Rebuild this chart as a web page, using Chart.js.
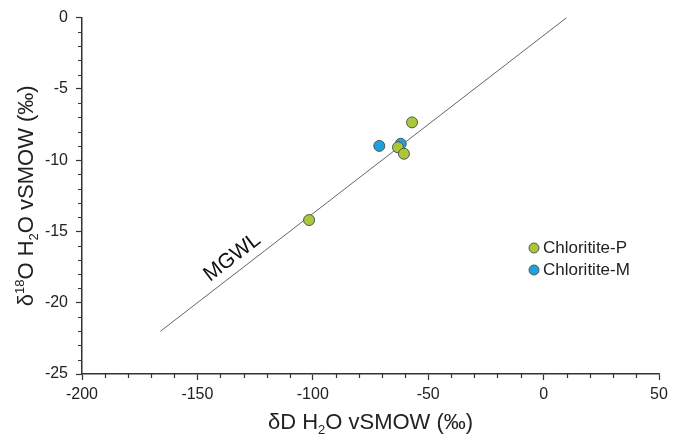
<!DOCTYPE html>
<html>
<head>
<meta charset="utf-8">
<script src="https://cdn.jsdelivr.net/npm/chart.js@4.4.0/dist/chart.umd.min.js"></script>
<style>
  html, body { margin: 0; padding: 0; background: #fff; }
  #wrap { width: 674px; height: 442px; }
</style>
</head>
<body>
<div id="wrap"><canvas id="chart" width="674" height="442"></canvas></div>
<script>
// Data (dD, d18O in permil vs SMOW)
const seriesNames = ['Chloritite-P', 'Chloritite-M'];
const chloritePD = [-57.0, -63.1, -60.5, -101.6];
const chloritePO = [-7.35, -9.10, -9.55, -14.2];
const chloriteMD = [-71.2, -61.9];
const chloriteMO = [-9.0, -8.85];
// meteoric water line end points
const mgwlD = [-166, 10];
const mgwlO = [-22, 0];

const xTicks = [-200, -150, -100, -50, 0, 50];
const yTicks = [-25, -20, -15, -10, -5, 0];

const FONT = '"Liberation Sans", Arial, sans-serif';
const green = '#A8C83A';
const blue = '#1AA3E0';

function toPoints(xs, ys) {
    return xs.map((x, i) => ({ x: x, y: ys[i] }));
}

// minor ticks drawn from the scales
const minorTicks = {
    id: 'minorTicks',
    afterDraw(chart) {
        const ctx = chart.ctx;
        const xs = chart.scales.x, ys = chart.scales.y;
        ctx.save();
        ctx.strokeStyle = '#333';
        ctx.lineWidth = 1.2;
        ctx.beginPath();
        for (let v = xs.min; v <= xs.max; v += 10) {
            if (v % 50 === 0) continue;
            const px = Math.round(xs.getPixelForValue(v)) + 0.5;
            ctx.moveTo(px, ys.bottom);
            ctx.lineTo(px, ys.bottom + 4);
        }
        for (let v = ys.min; v <= ys.max; v += 1) {
            if (v % 5 === 0) continue;
            const py = Math.round(ys.getPixelForValue(v)) + 0.5;
            ctx.moveTo(xs.left, py);
            ctx.lineTo(xs.left - 4, py);
        }
        ctx.stroke();
        ctx.restore();
    }
};

// text with super/subscripts
function drawRich(ctx, parts, cx, cy, rot) {
    ctx.save();
    ctx.translate(cx, cy);
    ctx.rotate(rot);
    let total = 0;
    parts.forEach(p => {
        ctx.font = p.size + 'px ' + FONT;
        p.w = ctx.measureText(p.t).width;
        total += p.w;
    });
    let x = -total / 2;
    ctx.fillStyle = '#222';
    ctx.textBaseline = 'middle';
    ctx.textAlign = 'left';
    parts.forEach(p => {
        ctx.font = p.size + 'px ' + FONT;
        ctx.fillText(p.t, x, p.dy || 0);
        x += p.w;
    });
    ctx.restore();
}

const axisTitles = {
    id: 'axisTitles',
    afterDraw(chart) {
        const ctx = chart.ctx;
        const a = chart.chartArea;
        drawRich(ctx, [
            { t: '\u03B4D H', size: 22 },
            { t: '2', size: 13, dy: 7 },
            { t: 'O vSMOW (\u2030)', size: 22 }
        ], (a.left + a.right) / 2, 423, 0);
        drawRich(ctx, [
            { t: '\u03B4', size: 22 },
            { t: '18', size: 13, dy: -7 },
            { t: 'O H', size: 22 },
            { t: '2', size: 13, dy: 7 },
            { t: 'O vSMOW (\u2030)', size: 22 }
        ], 27, (a.top + a.bottom) / 2, -Math.PI / 2);
    }
};

// MGWL label along the line
const lineLabel = {
    id: 'lineLabel',
    afterDatasetsDraw(chart) {
        const ctx = chart.ctx;
        const xs = chart.scales.x, ys = chart.scales.y;
        const x0 = xs.getPixelForValue(mgwlD[0]), y0 = ys.getPixelForValue(mgwlO[0]);
        const x1 = xs.getPixelForValue(mgwlD[1]), y1 = ys.getPixelForValue(mgwlO[1]);
        const ang = Math.atan2(y1 - y0, x1 - x0);
        const d = -131;
        const o = mgwlO[0] + (d - mgwlD[0]) * (mgwlO[1] - mgwlO[0]) / (mgwlD[1] - mgwlD[0]);
        const px = xs.getPixelForValue(d), py = ys.getPixelForValue(o);
        ctx.save();
        ctx.translate(px, py);
        ctx.rotate(ang);
        ctx.font = '21px ' + FONT;
        ctx.fillStyle = '#111';
        ctx.textAlign = 'center';
        ctx.textBaseline = 'bottom';
        ctx.fillText('MGWL', 0, -4);
        ctx.restore();
    }
};

// legend at the right of the plot
const sideLegend = {
    id: 'sideLegend',
    afterDraw(chart) {
        const ctx = chart.ctx;
        const rows = [0, 1];
        ctx.save();
        rows.forEach(i => {
            const ds = chart.data.datasets[i];
            const cy = 248 + i * 22;
            ctx.beginPath();
            ctx.arc(534, cy, 5, 0, Math.PI * 2);
            ctx.fillStyle = ds.backgroundColor;
            ctx.fill();
            ctx.lineWidth = 1;
            ctx.strokeStyle = '#555';
            ctx.stroke();
            ctx.font = '17px ' + FONT;
            ctx.fillStyle = '#222';
            ctx.textAlign = 'left';
            ctx.textBaseline = 'middle';
            ctx.fillText(ds.label, 543, cy);
        });
        ctx.restore();
    }
};

function createChart() {
    const ctx = document.getElementById('chart').getContext('2d');
    new Chart(ctx, {
        type: 'scatter',
        data: {
            datasets: [{
                label: seriesNames[0],
                data: toPoints(chloritePD, chloritePO),
                backgroundColor: green,
                borderColor: '#555',
                borderWidth: 1,
                pointRadius: 5.5
            }, {
                label: seriesNames[1],
                data: toPoints(chloriteMD, chloriteMO),
                backgroundColor: blue,
                borderColor: '#555',
                borderWidth: 1,
                pointRadius: 5.5
            }, {
                label: 'MGWL',
                data: toPoints(mgwlD, mgwlO),
                showLine: true,
                borderColor: '#666',
                borderWidth: 1,
                pointRadius: 0
            }]
        },
        options: {
            responsive: false,
            animation: false,
            layout: { padding: { left: 0, right: 15, top: 17, bottom: 0 } },
            plugins: {
                legend: { display: false },
                tooltip: { enabled: false }
            },
            scales: {
                x: {
                    type: 'linear',
                    min: xTicks[0],
                    max: xTicks[xTicks.length - 1],
                    afterFit: s => { s.height = 68; },
                    afterBuildTicks: s => { s.ticks = xTicks.map(v => ({ value: v })); },
                    border: { display: true, color: '#333', width: 1.5 },
                    grid: { drawOnChartArea: false, drawTicks: true, tickLength: 6, tickColor: '#333', tickWidth: 1.2 },
                    ticks: { color: '#222', padding: 5, font: { size: 16, family: FONT } }
                },
                y: {
                    type: 'linear',
                    min: yTicks[0],
                    max: yTicks[yTicks.length - 1],
                    afterFit: s => { s.width = 82; },
                    afterBuildTicks: s => { s.ticks = yTicks.map(v => ({ value: v })); },
                    border: { display: true, color: '#333', width: 1.5 },
                    grid: { drawOnChartArea: false, drawTicks: true, tickLength: 6, tickColor: '#333', tickWidth: 1.2 },
                    ticks: { color: '#222', padding: 8, font: { size: 16, family: FONT } }
                }
            }
        },
        plugins: [minorTicks, axisTitles, lineLabel, sideLegend]
    });
}

document.addEventListener('DOMContentLoaded', createChart);
</script>
</body>
</html>
